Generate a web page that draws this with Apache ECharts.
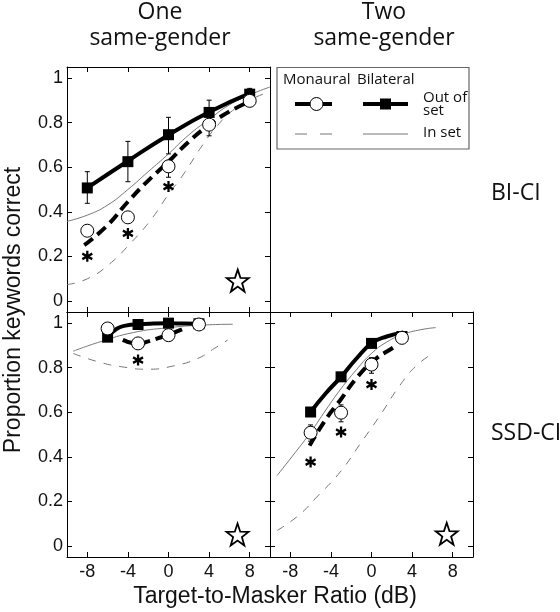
<!DOCTYPE html>
<html>
<head>
<meta charset="utf-8">
<script src="https://cdn.jsdelivr.net/npm/echarts@6/dist/echarts.min.js"></script>
<style>
html,body{margin:0;padding:0;background:#fff;}
#c{width:560px;height:612px;}
</style>
</head>
<body>
<div id="c"></div>
<script>
// ---------- tick labels ----------
const xTicks = [-8, -4, 0, 4, 8];
const yTicks = [0, 0.2, 0.4, 0.6, 0.8, 1];

// ---------- Panel A: BI-CI, One same-gender ----------
const snrA = [-8, -4, 0, 4, 8];
const biOutA = [0.507, 0.625, 0.746, 0.846, 0.928];
const biLoA = [0.438, 0.535, 0.66, 0.80, 0.90];
const biHiA = [0.58, 0.716, 0.824, 0.901, 0.954];
const monOutA = [0.315, 0.375, 0.604, 0.791, 0.898];
const monLoA = [0.315, 0.375, 0.555, 0.741, 0.898];
const monHiA = [0.315, 0.375, 0.604, 0.791, 0.898];
const biFitXA = [-8, -4, 0, 4, 8];
const biFitYA = [0.507, 0.628, 0.745, 0.848, 0.932];
const monFitXA = [-8.3, -6, -4, -2, 0, 2, 4, 6, 8];
const monFitYA = [0.25, 0.34, 0.445, 0.54, 0.625, 0.715, 0.79, 0.85, 0.895];
const biInXA = [-10, -8, -6, -4, -2, 0, 2, 4, 6, 8, 10];
const biInYA = [0.357, 0.385, 0.43, 0.5, 0.58, 0.66, 0.745, 0.815, 0.88, 0.925, 0.96];
const monInXA = [-10, -8, -5.8, -3.8, -1.8, -0.1, 1.5, 3.2, 4.8, 6.5, 8.2, 10];
const monInYA = [0.073, 0.099, 0.166, 0.256, 0.36, 0.472, 0.57, 0.689, 0.786, 0.861, 0.906, 0.94];
const starA = [[6.82, 0.091]];
const sigA = [[-8, 0.2], [-4, 0.303], [0, 0.513]];

// ---------- Panel B: SSD-CI, One same-gender ----------
const snrB = [-6, -3, 0, 3];
const biOutB = [0.937, 0.994, 1.0, 0.997];
const monOutB = [0.976, 0.909, 0.946, 0.994];
const biFitXB = [-6, -5.1, -4.1, -3, -1.5, 0, 1.5, 3];
const biFitYB = [0.937, 0.975, 0.99, 0.995, 0.998, 0.999, 0.998, 0.997];
const monFitXB = [-4.5, -3, -2, -1, 0, 1.5];
const monFitYB = [0.925, 0.908, 0.918, 0.933, 0.948, 0.975];
const biInXB = [-9.4, -6.75, -3.44, -0.13, 3.2, 6.33];
const biInYB = [0.874, 0.916, 0.958, 0.979, 0.991, 0.995];
const monInXB = [-9.4, -6.9, -4.6, -2.1, 0.5, 2.86, 4.5, 5.83];
const monInYB = [0.864, 0.826, 0.804, 0.793, 0.808, 0.841, 0.886, 0.924];
const starB = [[6.8, 0.051]];
const sigB = [[-3, 0.834]];

// ---------- Panel C: SSD-CI, Two same-gender ----------
const snrC = [-6, -3, 0, 3];
const biOutC = [0.601, 0.759, 0.909, 0.94];
const monOutC = [0.508, 0.598, 0.814, 0.934];
const monLoC = [0.47, 0.557, 0.775, 0.934];
const monHiC = [0.543, 0.633, 0.845, 0.95];
const biFitXC = [-6, -4.5, -3, -1.5, 0, 1.5, 3.15];
const biFitYC = [0.601, 0.685, 0.759, 0.84, 0.909, 0.94, 0.958];
const monFitXC = [-6.1, -4.56, -3.08, -1.38, 0.3, 2, 2.6];
const monFitYC = [0.45, 0.564, 0.654, 0.759, 0.835, 0.886, 0.903];
const biInXC = [-9.3, -7.5, -6, -4.5, -3, -1.5, 0, 1.5, 3.15, 4.8, 6.33];
const biInYC = [0.316, 0.42, 0.51, 0.61, 0.706, 0.79, 0.864, 0.915, 0.95, 0.97, 0.98];
const monInXC = [-9.3, -7.2, -5.4, -3.1, -1.1, 0.85, 2.8, 4.46, 6.1];
const monInYC = [0.069, 0.136, 0.219, 0.331, 0.459, 0.586, 0.721, 0.811, 0.864];
const starC = [[7.41, 0.054]];
const sigC = [[-6, 0.376], [-3, 0.511], [0, 0.724]];

// ---------- helpers ----------
const zip = (xs, ys) => xs.map((x, i) => [x, ys[i]]);
const zip3 = (xs, a, b) => xs.map((x, i) => [x, a[i], b[i]]);

const starPath = (() => {
  let d = 'path://';
  for (let i = 0; i < 10; i++) {
    const r = i % 2 === 0 ? 1 : 0.4;
    const a = -Math.PI / 2 + i * Math.PI / 5;
    d += (i === 0 ? 'M' : 'L') + (r * Math.cos(a)).toFixed(4) + ',' + (r * Math.sin(a)).toFixed(4);
  }
  return d + 'Z';
})();
const astPath = 'path://M0,-1L0,1M-0.866,-0.5L0.866,0.5M-0.866,0.5L0.866,-0.5';

const grids = [
  { left: 67, top: 67, width: 203, height: 245 },
  { left: 67, top: 312, width: 203, height: 245 },
  { left: 270, top: 312, width: 203, height: 245 }
];

const tickFont = { fontFamily: 'Liberation Sans, Arial, sans-serif', fontSize: 18, color: '#111' };
function xAx(g, pos, lab) {
  return {
    type: 'value', gridIndex: g, position: pos, min: -10, max: 10,
    axisLine: { show: true, onZero: false, lineStyle: { color: '#000', width: 1 } },
    axisTick: { show: true, inside: true, length: 5, customValues: xTicks, lineStyle: { color: '#000', width: 1 } },
    axisLabel: Object.assign({ show: lab, customValues: xTicks, margin: 6 }, tickFont),
    splitLine: { show: false }
  };
}
function yAx(g, pos, lab) {
  return {
    type: 'value', gridIndex: g, position: pos, min: -0.05, max: 1.05,
    axisLine: { show: true, onZero: false, lineStyle: { color: '#000', width: 1 } },
    axisTick: { show: true, inside: true, length: 5, customValues: yTicks, lineStyle: { color: '#000', width: 1 } },
    axisLabel: Object.assign({
      show: lab, customValues: yTicks, margin: 4,
      formatter: v => (Math.abs(v) < 1e-9 ? '0' : Math.abs(v - 1) < 1e-9 ? '1' : v.toFixed(1))
    }, tickFont),
    splitLine: { show: false }
  };
}
const xAxes = [xAx(0, 'bottom', false), xAx(0, 'top', false), xAx(1, 'bottom', true), xAx(1, 'top', false), xAx(2, 'bottom', true), xAx(2, 'top', false)];
const yAxes = [yAx(0, 'left', true), yAx(0, 'right', false), yAx(1, 'left', true), yAx(1, 'right', false), yAx(2, 'left', false), yAx(2, 'right', false)];

function errSeries(ai, data) {
  return {
    type: 'custom', xAxisIndex: ai, yAxisIndex: ai, z: 4, silent: true,
    renderItem: (params, api) => {
      const x = api.value(0), lo = api.value(1), hi = api.value(2);
      const p1 = api.coord([x, lo]), p2 = api.coord([x, hi]);
      const w = 2.5, st = { stroke: '#000', lineWidth: 1 };
      return {
        type: 'group', children: [
          { type: 'line', shape: { x1: p1[0], y1: p1[1], x2: p2[0], y2: p2[1] }, style: st },
          { type: 'line', shape: { x1: p1[0] - w, y1: p1[1], x2: p1[0] + w, y2: p1[1] }, style: st },
          { type: 'line', shape: { x1: p2[0] - w, y1: p2[1], x2: p2[0] + w, y2: p2[1] }, style: st }
        ]
      };
    },
    data: data
  };
}
function lineS(ai, data, width, color, type, z) {
  return {
    type: 'line', xAxisIndex: ai, yAxisIndex: ai, data: data, smooth: true, showSymbol: false,
    silent: true, z: z, lineStyle: { width: width, color: color, type: type, cap: 'butt', opacity: 1 }
  };
}
function scat(ai, data, symbol, size, z, style) {
  return {
    type: 'scatter', xAxisIndex: ai, yAxisIndex: ai, data: data, symbol: symbol, symbolSize: size,
    z: z, silent: true, itemStyle: Object.assign({ opacity: 1 }, style)
  };
}
function panel(ai, d) {
  const s = [
    lineS(ai, d.biIn, 1, '#777', 'solid', 2),
    lineS(ai, d.monIn, 1, '#777', [8, 8], 2),
    lineS(ai, d.monFit, 4, '#000', [11, 6], 3),
    lineS(ai, d.biFit, 4, '#000', 'solid', 3)
  ];
  if (d.biErr) s.push(errSeries(ai, d.biErr));
  if (d.monErr) s.push(errSeries(ai, d.monErr));
  s.push(scat(ai, d.bi, 'rect', 11, 5, { color: '#000' }));
  s.push(scat(ai, d.mon, 'circle', 13, 6, { color: '#fff', borderColor: '#000', borderWidth: 1 }));
  s.push(scat(ai, d.sig, astPath, [10, 11], 6, { color: 'none', borderColor: '#000', borderWidth: 2.4 }));
  s.push(scat(ai, d.star, starPath, 22, 6, { color: '#fff', borderColor: '#000', borderWidth: 1.8 }));
  return s;
}

const series = [].concat(
  panel(0, {
    biIn: zip(biInXA, biInYA), monIn: zip(monInXA, monInYA),
    biFit: zip(biFitXA, biFitYA), monFit: zip(monFitXA, monFitYA),
    biErr: zip3(snrA, biLoA, biHiA), monErr: zip3(snrA, monLoA, monHiA),
    bi: zip(snrA, biOutA), mon: zip(snrA, monOutA), sig: sigA, star: starA
  }),
  panel(2, {
    biIn: zip(biInXB, biInYB), monIn: zip(monInXB, monInYB),
    biFit: zip(biFitXB, biFitYB), monFit: zip(monFitXB, monFitYB),
    bi: zip(snrB, biOutB), mon: zip(snrB, monOutB), sig: sigB, star: starB
  }),
  panel(4, {
    biIn: zip(biInXC, biInYC), monIn: zip(monInXC, monInYC),
    biFit: zip(biFitXC, biFitYC), monFit: zip(monFitXC, monFitYC),
    monErr: zip3(snrC, monLoC, monHiC),
    bi: zip(snrC, biOutC), mon: zip(snrC, monOutC), sig: sigC, star: starC
  })
);

const myr = 'Open Sans, Noto Sans, sans-serif';
const ari = 'Liberation Sans, Arial, sans-serif';
function txt(t, x, y, size, fam, align, extra) {
  return Object.assign({
    type: 'text', x: x, y: y, silent: true,
    style: { text: t, fontSize: size, fontFamily: fam, fill: '#111', align: align || 'left', verticalAlign: 'middle' }
  }, extra || {});
}

const graphic = [
  txt('One', 160, 12, 23, myr, 'center'),
  txt('same-gender', 160, 38, 23, myr, 'center'),
  txt('Two', 384, 12, 23, myr, 'center'),
  txt('same-gender', 384, 38, 23, myr, 'center'),
  txt('BI-CI', 491, 193, 23, myr, 'left'),
  txt('SSD-CI', 491, 433, 23, myr, 'left'),
  txt('Target-to-Masker Ratio (dB)', 275, 597, 23, ari, 'center'),
  txt('Proportion keywords correct', 14, 310, 23, ari, 'center', { rotation: Math.PI / 2 }),
  // legend box
  { type: 'rect', shape: { x: 277, y: 67.5, width: 192, height: 81.5 }, style: { fill: '#fff', stroke: '#666', lineWidth: 1.2 }, z: 10 },
  txt('Monaural', 283, 80, 15, myr, 'left', { z: 11 }),
  txt('Bilateral', 357, 80, 15, myr, 'left', { z: 11 }),
  txt('Out of', 423, 98, 15, myr, 'left', { z: 11 }),
  txt('set', 423, 111, 15, myr, 'left', { z: 11 }),
  txt('In set', 423, 133, 15, myr, 'left', { z: 11 }),
  { type: 'line', shape: { x1: 295, y1: 104, x2: 332, y2: 104 }, style: { stroke: '#000', lineWidth: 4 }, z: 11 },
  { type: 'circle', shape: { cx: 316.5, cy: 104, r: 6.5 }, style: { fill: '#fff', stroke: '#000', lineWidth: 1 }, z: 12 },
  { type: 'line', shape: { x1: 363, y1: 104, x2: 408, y2: 104 }, style: { stroke: '#000', lineWidth: 4 }, z: 11 },
  { type: 'rect', shape: { x: 380, y: 98.5, width: 11, height: 11 }, style: { fill: '#000' }, z: 12 },
  { type: 'line', shape: { x1: 295, y1: 134, x2: 332, y2: 134 }, style: { stroke: '#777', lineWidth: 1, lineDash: [12, 13] }, z: 11 },
  { type: 'line', shape: { x1: 363, y1: 134, x2: 408, y2: 134 }, style: { stroke: '#777', lineWidth: 1 }, z: 11 }
];

const chart = echarts.init(document.getElementById('c'), null, { renderer: 'canvas' });
chart.setOption({
  animation: false,
  backgroundColor: '#fff',
  grid: grids,
  xAxis: xAxes,
  yAxis: yAxes,
  series: series,
  graphic: graphic
});
</script>
</body>
</html>
